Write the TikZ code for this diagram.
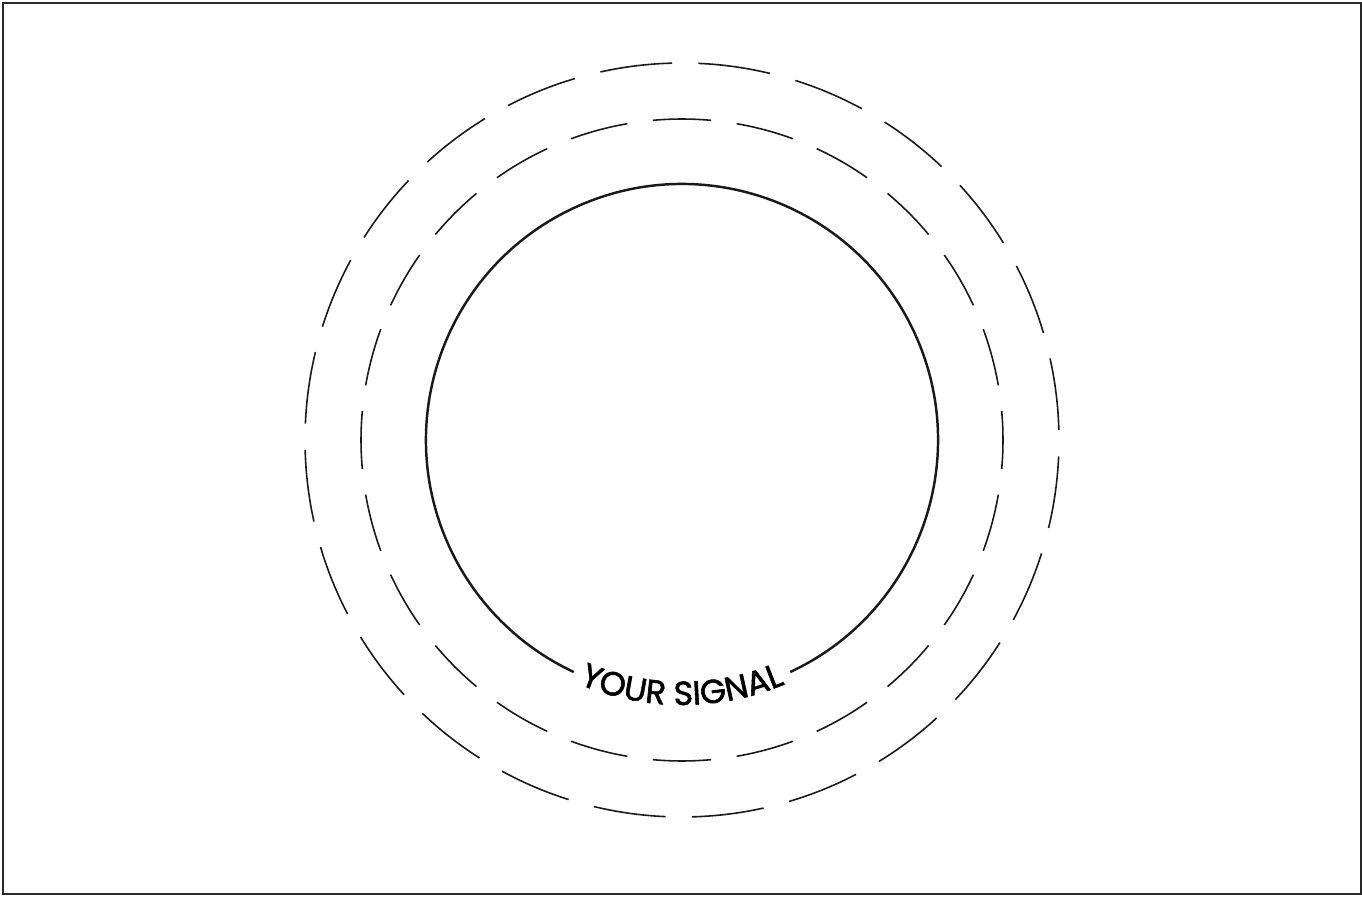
\documentclass[tikz,border=0pt]{standalone}
\usepackage{fontspec}
\newfontfamily\signalfont{Poppins}[FakeBold=1.6]
\usetikzlibrary{decorations.text}
\definecolor{framegray}{RGB}{40,40,40}
\tikzset{
  frameline/.style={draw=framegray,line width=0.85pt},
  ringsolid/.style={draw=black!90,line width=0.7pt},
  ringdash/.style={draw=black!90,line width=0.45pt}
}
\begin{document}
\begin{tikzpicture}[x=1cm,y=1cm]
  \useasboundingbox (0,0) rectangle (13.62,8.97);
  \draw[frameline] (0.03,0.03) rectangle (13.61,8.94);
  \coordinate (c) at (6.82,4.57);
  % solid ring, open at the bottom for the label
  \draw[ringsolid] ([shift={(-65:2.56)}]c) arc[start angle=-65,end angle=245,radius=2.56];
  \path[decorate,decoration={text along path,text align=center,
      text={|\signalfont\fontsize{9.5}{9.5}\selectfont|YOUR SIGNAL}}]
    ([shift={(240:2.65)}]c) arc[start angle=240,end angle=300,radius=2.65];
  % dashed rings
  \foreach \a in {0,15,...,345}{
    \draw[ringdash] ([shift={(\a-5.2:3.21)}]c) arc[start angle=\a-5.2,end angle=\a+5.2,radius=3.21];
    \draw[ringdash] ([shift={(\a+1.5:3.77)}]c) arc[start angle=\a+1.5,end angle=\a+12.5,radius=3.77];
  }
\end{tikzpicture}
\end{document}
